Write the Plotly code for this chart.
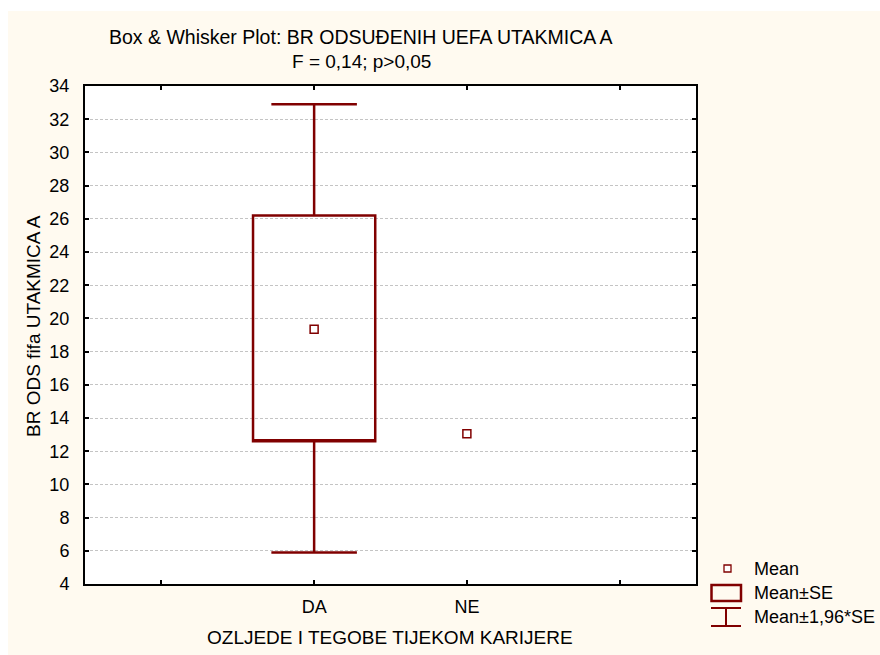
import plotly.graph_objects as go

# ---- data ----
categories = ["DA", "NE"]
cat_pos = [0, 1]
means = [19.35, 13.05]
se_low = [12.6]      # Mean-SE for DA (NE has no spread)
se_high = [26.2]     # Mean+SE
ci_low = [5.9]       # Mean-1.96*SE
ci_high = [32.9]     # Mean+1.96*SE
y_ticks = list(range(4, 36, 2))
x_ticks = [-1, 0, 1, 2]
x_ticktext = ["", "DA", "NE", ""]

DARK_RED = "#800000"
CREAM = "#FFFAF0"
FONT = "Liberation Sans, Arial, sans-serif"
FS = 18

# plot area in page pixels (body margin removed below)
L, R, T, B = 85, 696, 86, 584
W, H = 880, 655


def px(x):
    return (x - L) / (R - L)


def py(y):
    return (B - y) / (B - T)


fig = go.Figure()

fig.add_trace(go.Box(
    x=[cat_pos[0]], q1=se_low, median=se_low, q3=se_high,
    lowerfence=ci_low, upperfence=ci_high,
    orientation="v", width=0.8, whiskerwidth=0.7,
    line=dict(color=DARK_RED, width=2.5),
    fillcolor="rgba(0,0,0,0)", boxpoints=False, showlegend=False,
))

fig.add_trace(go.Scatter(
    x=cat_pos, y=means, mode="markers",
    marker=dict(symbol="square-open", size=8, color=DARK_RED,
                line=dict(width=1.5, color=DARK_RED)),
    showlegend=False,
))

shapes = [
    # white strips above / left of cream panel
    dict(type="rect", xref="paper", yref="paper", x0=px(0), x1=px(W), y0=py(0), y1=py(11),
         fillcolor="white", line=dict(width=0), layer="above"),
    dict(type="rect", xref="paper", yref="paper", x0=px(0), x1=px(8), y0=py(0), y1=py(H),
         fillcolor="white", line=dict(width=0), layer="above"),
    # legend glyphs
    dict(type="rect", xref="paper", yref="paper", x0=px(724), x1=px(731), y0=py(572), y1=py(565),
         fillcolor="white", line=dict(width=1.3, color=DARK_RED)),
    dict(type="rect", xref="paper", yref="paper", x0=px(711.5), x1=px(741), y0=py(601), y1=py(585),
         fillcolor="rgba(0,0,0,0)", line=dict(width=2.5, color=DARK_RED)),
    dict(type="line", xref="paper", yref="paper", x0=px(711), x1=px(741), y0=py(608), y1=py(608),
         line=dict(width=2, color=DARK_RED)),
    dict(type="line", xref="paper", yref="paper", x0=px(711), x1=px(741), y0=py(626), y1=py(626),
         line=dict(width=2, color=DARK_RED)),
    dict(type="line", xref="paper", yref="paper", x0=px(726), x1=px(726), y0=py(608), y1=py(626),
         line=dict(width=2, color=DARK_RED)),
]


def ann(text, x, y, xanchor="center", size=FS, **kw):
    return dict(text=text, x=px(x), y=py(y), xref="paper", yref="paper", showarrow=False,
                font=dict(family=FONT, size=size, color="black"),
                xanchor=xanchor, yanchor="middle", **kw)


annotations = [
    ann("Box & Whisker Plot: BR ODSUĐENIH UEFA UTAKMICA A", 361, 37, size=19.5),
    ann("F = 0,14; p>0,05", 361, 61, size=19),
    ann("BR ODS fifa UTAKMICA A", 33, 326, textangle=-90, size=19),
    ann("OZLJEDE I TEGOBE TIJEKOM KARIJERE", 390, 637, size=19),
    ann("Mean", 752, 569, xanchor="left"),
    ann("Mean±SE", 752, 593, xanchor="left"),
    ann("Mean±1,96*SE", 752, 617, xanchor="left"),
]

fig.update_layout(
    width=W, height=H,
    margin=dict(l=L, r=W - R, t=T, b=H - B, pad=0),
    paper_bgcolor=CREAM, plot_bgcolor="white",
    font=dict(family=FONT, size=FS, color="black"),
    shapes=shapes, annotations=annotations,
    showlegend=False,
)

fig.update_xaxes(
    range=[-1.5, 2.5], tickmode="array", tickvals=x_ticks, ticktext=x_ticktext,
    showgrid=False, zeroline=False, showline=True, linecolor="black", linewidth=2,
    mirror="ticks", ticks="inside", ticklen=4, tickwidth=2, tickcolor="black",
    ticklabelstandoff=5,
)
fig.update_yaxes(
    range=[4, 34], tickmode="array", tickvals=y_ticks,
    showgrid=True, gridcolor="#c4c4c4", griddash="3px,2px", gridwidth=1,
    zeroline=False, showline=True, linecolor="black", linewidth=2,
    mirror="ticks", ticks="inside", ticklen=4, tickwidth=2, tickcolor="black",
    ticklabelstandoff=10,
)

fig.write_html(
    "out.html",
    config={"displayModeBar": False},
    post_script="document.body.style.margin='0';document.documentElement.style.overflow='hidden';document.body.style.overflow='hidden';",
)
